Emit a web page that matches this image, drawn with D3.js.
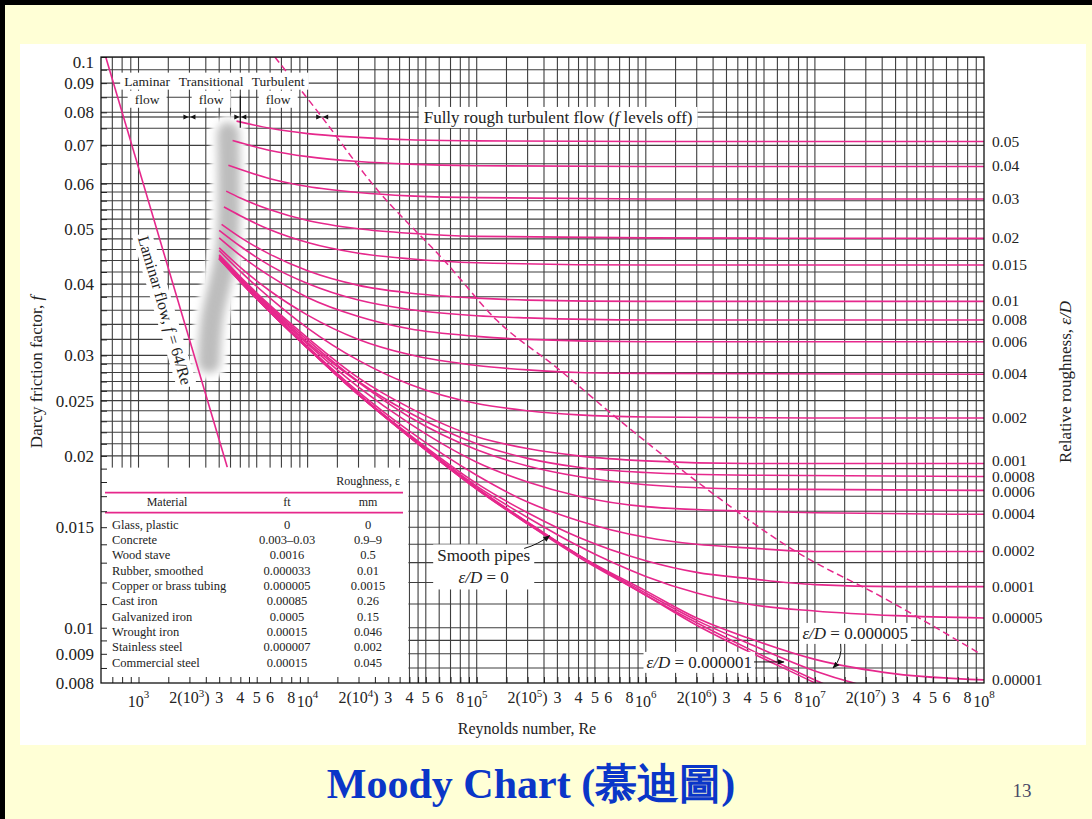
<!DOCTYPE html>
<html>
<head>
<meta charset="utf-8">
<script src="https://cdn.jsdelivr.net/npm/d3@7"></script>
<style>
  html, body { margin: 0; padding: 0; background: #ffffd6; }
  svg { display: block; }
  text { font-family: "Liberation Serif", "DejaVu Serif", serif; }
</style>
</head>
<body>
<svg id="chart" width="1092" height="819"></svg>
<script>
// ---------- data ----------
// relative roughness of each curve (0 = smooth pipes)
const roughness = [0.05, 0.04, 0.03, 0.02, 0.015, 0.01, 0.008, 0.006, 0.004, 0.002,
                   0.001, 0.0008, 0.0006, 0.0004, 0.0002, 0.0001, 0.00005, 0.00001,
                   0.000005, 0.000001, 0];
// labels written at the right-hand end of the curves that reach Re = 10^8
const roughnessLabels = ["0.05", "0.04", "0.03", "0.02", "0.015", "0.01", "0.008", "0.006",
                         "0.004", "0.002", "0.001", "0.0008", "0.0006", "0.0004", "0.0002",
                         "0.0001", "0.00005", "0.00001"];
// Darcy friction factor along each curve: [Re, f] pairs, same order as roughness
const frictionCurves = [
  [[3800,0.0772],[6000,0.0750],[1e4,0.0734],[2e4,0.0723],[4e4,0.0716],[1e5,0.0713],[1e6,0.0711],[1e8,0.0711]],
  [[3600,0.0714],[6000,0.0686],[1e4,0.0669],[2e4,0.0656],[4e4,0.0649],[1e5,0.0645],[1e6,0.0643],[1e8,0.0643]],
  [[3400,0.0646],[6000,0.0612],[1e4,0.0593],[2e4,0.0579],[4e4,0.0571],[1e5,0.0567],[1e6,0.0564],[1e8,0.0564]],
  [[3300,0.0582],[4000,0.0566],[6000,0.0540],[1e4,0.0517],[2e4,0.0500],[4e4,0.0491],[1e5,0.0485],[1e6,0.0482],[1e8,0.0481]],
  [[3200,0.0546],[4000,0.0527],[6000,0.0498],[1e4,0.0473],[2e4,0.0453],[4e4,0.0443],[1e5,0.0436],[1e6,0.0432],[1e8,0.0432]],
  [[3100,0.0509],[4000,0.0483],[6000,0.0451],[1e4,0.0422],[2e4,0.0398],[4e4,0.0386],[1e5,0.0378],[2e5,0.0375],[1e6,0.0373],[1e8,0.0373]],
  [[3000,0.0497],[4000,0.0466],[6000,0.0431],[1e4,0.0401],[2e4,0.0375],[4e4,0.0361],[1e5,0.0352],[2e5,0.0349],[1e6,0.0346],[1e8,0.0346]],
  [[3000,0.0482],[4000,0.0449],[6000,0.0413],[1e4,0.0379],[2e4,0.0351],[4e4,0.0334],[1e5,0.0324],[2e5,0.0320],[1e6,0.0317],[1e8,0.0317]],
  [[3000,0.0463],[4000,0.0428],[6000,0.0389],[1e4,0.0353],[2e4,0.0320],[4e4,0.0301],[1e5,0.0288],[2e5,0.0283],[4e5,0.0280],[1e6,0.0279],[1e8,0.0278]],
  [[3000,0.0458],[4000,0.0421],[6000,0.0378],[1e4,0.0335],[2e4,0.0294],[4e4,0.0267],[1e5,0.0247],[2e5,0.0240],[4e5,0.0236],[1e6,0.0234],[1e7,0.0233],[1e8,0.0233]],
  [[3000,0.0450],[4000,0.0412],[6000,0.0367],[1e4,0.0322],[2e4,0.0274],[4e4,0.0243],[1e5,0.0216],[2e5,0.0206],[4e5,0.0200],[1e6,0.0196],[4e6,0.0194],[1e8,0.0194]],
  [[3000,0.0449],[4000,0.0410],[6000,0.0365],[1e4,0.0319],[2e4,0.0270],[4e4,0.0238],[1e5,0.0210],[2e5,0.0198],[4e5,0.0191],[1e6,0.0187],[4e6,0.0185],[1e8,0.0184]],
  [[3000,0.0447],[4000,0.0409],[6000,0.0363],[1e4,0.0316],[2e4,0.0269],[4e4,0.0234],[1e5,0.0205],[2e5,0.0192],[4e5,0.0184],[1e6,0.0178],[4e6,0.0175],[1e8,0.0174]],
  [[3000,0.0446],[4000,0.0407],[6000,0.0361],[1e4,0.0314],[2e4,0.0264],[4e4,0.0228],[1e5,0.0195],[2e5,0.0180],[4e5,0.0170],[1e6,0.0163],[4e6,0.0160],[1e7,0.0159],[1e8,0.0158]],
  [[3000,0.0445],[4000,0.0406],[6000,0.0359],[1e4,0.0311],[2e4,0.0259],[4e4,0.0221],[1e5,0.0185],[2e5,0.0166],[4e5,0.0154],[1e6,0.0144],[2e6,0.0140],[4e6,0.0138],[1e7,0.0136],[1e8,0.0136]],
  [[3000,0.0444],[4000,0.0405],[6000,0.0358],[1e4,0.0310],[2e4,0.0257],[4e4,0.0218],[1e5,0.0179],[2e5,0.0159],[4e5,0.0144],[1e6,0.0131],[2e6,0.0125],[4e6,0.0122],[1e7,0.0119],[3e7,0.0118],[1e8,0.0118]],
  [[3000,0.0444],[4000,0.0405],[6000,0.0358],[1e4,0.0309],[2e4,0.0256],[4e4,0.0217],[1e5,0.0177],[2e5,0.0156],[4e5,0.0139],[1e6,0.0123],[2e6,0.0115],[4e6,0.0110],[1e7,0.0107],[3e7,0.0105],[1e8,0.0104]],
  [[3000,0.0443],[4000,0.0404],[6000,0.0357],[1e4,0.0309],[2e4,0.0256],[4e4,0.0216],[1e5,0.0176],[2e5,0.0153],[4e5,0.0134],[1e6,0.0116],[2e6,0.0104],[4e6,0.0096],[1e7,0.0088],[3e7,0.0083],[1e8,0.0081]],
  [[3000,0.0443],[4000,0.0404],[6000,0.0357],[1e4,0.0309],[2e4,0.0256],[4e4,0.0216],[1e5,0.0175],[2e5,0.0153],[4e5,0.0134],[1e6,0.0115],[2e6,0.0103],[4e6,0.0094],[1e7,0.0084],[2e7,0.0079],[3e7,0.0077]],
  [[3000,0.0443],[4000,0.0404],[6000,0.0357],[1e4,0.0309],[2e4,0.0256],[4e4,0.0216],[1e5,0.0175],[2e5,0.0152],[4e5,0.0134],[1e6,0.0114],[2e6,0.0102],[4e6,0.0092],[1e7,0.0081],[2e7,0.0074]],
  [[3000,0.0443],[4000,0.0404],[6000,0.0357],[1e4,0.0309],[2e4,0.0256],[4e4,0.0216],[1e5,0.0175],[2e5,0.0152],[4e5,0.0133],[1e6,0.0114],[2e6,0.0101],[4e6,0.0091],[1e7,0.0080],[2e7,0.0072]]
];
// laminar line f = 64/Re, end points
const laminarRe = [640, 3350];
const laminarF  = [0.1, 0.0191];
// dashed boundary of the fully rough zone
const roughBoundaryRe = [6400, 12100, 24400, 66000, 131000, 300000, 650000, 2180000, 7400000, 26600000, 95000000];
const roughBoundaryF  = [0.1, 0.0786, 0.0597, 0.0436, 0.0346, 0.0285, 0.0235, 0.0177, 0.0137, 0.0112, 0.0090];
// shaded transition band (centre line)
const bandRe = [3390, 3340, 2720, 2610];
const bandF  = [0.0735, 0.0468, 0.0346, 0.0292];

// axis values
const fTickLabels = [0.1, 0.09, 0.08, 0.07, 0.06, 0.05, 0.04, 0.03, 0.025, 0.02, 0.015, 0.01, 0.009, 0.008];
const reTickLabels = [1e3, 2e3, 3e3, 4e3, 5e3, 6e3, 8e3,
                      1e4, 2e4, 3e4, 4e4, 5e4, 6e4, 8e4,
                      1e5, 2e5, 3e5, 4e5, 5e5, 6e5, 8e5,
                      1e6, 2e6, 3e6, 4e6, 5e6, 6e6, 8e6,
                      1e7, 2e7, 3e7, 4e7, 5e7, 6e7, 8e7, 1e8];
const gridMantissa = [1, 1.5, 2, 2.5, 3, 3.5, 4, 4.5, 5, 6, 7, 8, 9];
const fGrid = [0.0085, 0.009, 0.0095,
  0.01, 0.011, 0.012, 0.013, 0.014, 0.015, 0.016, 0.017, 0.018, 0.019, 0.02,
  0.021, 0.022, 0.023, 0.024, 0.025, 0.026, 0.027, 0.028, 0.029, 0.03,
  0.032, 0.034, 0.036, 0.038, 0.04, 0.042, 0.044, 0.046, 0.048, 0.05,
  0.052, 0.054, 0.056, 0.058, 0.06, 0.065, 0.07, 0.075, 0.08, 0.085, 0.09, 0.095, 0.1];

// roughness table
const materials = ["Glass, plastic", "Concrete", "Wood stave", "Rubber, smoothed", "Copper or brass tubing",
                   "Cast iron", "Galvanized iron", "Wrought iron", "Stainless steel", "Commercial steel"];
const roughnessFt = ["0", "0.003\u20130.03", "0.0016", "0.000033", "0.000005", "0.00085", "0.0005", "0.00015", "0.000007", "0.00015"];
const roughnessMm = ["0", "0.9\u20139", "0.5", "0.01", "0.0015", "0.26", "0.15", "0.046", "0.002", "0.045"];

// ---------- drawing ----------
const W = 1092, H = 819;
const PINK = "#e6288c";
const GRID = "#3e3e3e";
const svg = d3.select("#chart");

const x = d3.scaleLog().domain([600, 1e8]).range([101, 984]);
const y = d3.scaleLog().domain([0.008, 0.1]).range([683, 57]);
const [X0, X1] = x.range();
const Y0 = y(0.1), Y1 = y(0.008);

const defs = svg.append("defs");
defs.append("clipPath").attr("id", "plotClip")
  .append("rect").attr("x", X0).attr("y", Y0).attr("width", X1 - X0).attr("height", Y1 - Y0);
defs.append("filter").attr("id", "soft").attr("x", "-100%").attr("y", "-20%").attr("width", "300%").attr("height", "140%")
  .append("feGaussianBlur").attr("stdDeviation", 4);
defs.append("filter").attr("id", "softer").attr("x", "-100%").attr("y", "-20%").attr("width", "300%").attr("height", "140%")
  .append("feGaussianBlur").attr("stdDeviation", 2);
defs.append("marker").attr("id", "head").attr("viewBox", "0 0 10 10").attr("refX", 9).attr("refY", 5)
  .attr("markerWidth", 7).attr("markerHeight", 7).attr("orient", "auto-start-reverse")
  .append("path").attr("d", "M0,1 L10,5 L0,9 Z").attr("fill", "#111");

// slide background and frame
svg.append("rect").attr("width", W).attr("height", H).attr("fill", "#ffffd6");
svg.append("rect").attr("width", W).attr("height", 5).attr("fill", "#000");
svg.append("rect").attr("width", 5).attr("height", H).attr("fill", "#000");
svg.append("rect").attr("x", 20).attr("y", 44).attr("width", 1066).attr("height", 701).attr("fill", "#fff");

// grid
const reGrid = [];
[2, 3, 4, 5, 6, 7].forEach(k => gridMantissa.forEach(m => {
  const v = m * Math.pow(10, k);
  if (v > 600 && v < 1e8) reGrid.push(v);
}));
const grid = svg.append("g").attr("clip-path", "url(#plotClip)");
grid.selectAll("line.v").data(reGrid).join("line").attr("class", "v")
  .attr("x1", d => x(d)).attr("x2", d => x(d)).attr("y1", Y0).attr("y2", Y1)
  .attr("stroke", GRID).attr("stroke-width", 1.1);
grid.selectAll("line.h").data(fGrid).join("line").attr("class", "h")
  .attr("x1", X0).attr("x2", X1).attr("y1", d => y(d)).attr("y2", d => y(d))
  .attr("stroke", GRID).attr("stroke-width", 1.1);
// regime marker line
const fRegime = 0.0785;
grid.append("line").attr("x1", X0).attr("x2", X1).attr("y1", y(fRegime)).attr("y2", y(fRegime))
  .attr("stroke", "#111").attr("stroke-width", 1.1);

// shaded transition band
const bandPts = bandRe.map((r, i) => [x(r), y(bandF[i])]);
const bandLine = d3.line().curve(d3.curveCatmullRom);
svg.append("path").attr("d", bandLine(bandPts)).attr("fill", "none")
  .attr("stroke", "#fff").attr("stroke-width", 36).attr("stroke-linecap", "round").attr("filter", "url(#softer)");
svg.append("path").attr("d", bandLine(bandPts)).attr("fill", "none")
  .attr("stroke", "#bdbdbd").attr("stroke-width", 22).attr("stroke-linecap", "round").attr("filter", "url(#soft)");

// curves
const plot = svg.append("g").attr("clip-path", "url(#plotClip)");
const curveLine = d3.line().x(d => x(d[0])).y(d => y(d[1])).curve(d3.curveMonotoneX);
plot.selectAll("path.curve").data(frictionCurves).join("path").attr("class", "curve")
  .attr("d", curveLine).attr("fill", "none").attr("stroke", PINK).attr("stroke-width", 1.6);
plot.append("path")
  .attr("d", d3.line().curve(d3.curveMonotoneX)(roughBoundaryRe.map((r, i) => [x(r), y(roughBoundaryF[i])])))
  .attr("fill", "none").attr("stroke", PINK).attr("stroke-width", 1.5).attr("stroke-dasharray", "7,4");
plot.append("line")
  .attr("x1", x(laminarRe[0])).attr("y1", y(laminarF[0])).attr("x2", x(laminarRe[1])).attr("y2", y(laminarF[1]))
  .attr("stroke", PINK).attr("stroke-width", 1.6);

// roughness table panel
const tX0 = X0, tX1 = x(4e4) - 1, tY0 = y(0.019) - 1, tY1 = Y1;
svg.append("rect").attr("x", tX0).attr("y", tY0).attr("width", tX1 - tX0).attr("height", tY1 - tY0).attr("fill", "#fff");
const tbl = svg.append("g").attr("font-size", 12.5).attr("fill", "#222");
tbl.append("text").attr("x", tX0 + 299).attr("y", tY0 + 17).attr("text-anchor", "end").attr("font-size", 12)
  .text("Roughness, \u03b5");
[tY0 + 25, tY0 + 45].forEach(yy => tbl.append("line").attr("x1", tX0 + 4).attr("x2", tX0 + 302)
  .attr("y1", yy).attr("y2", yy).attr("stroke", PINK).attr("stroke-width", 1.6));
tbl.append("text").attr("x", tX0 + 66).attr("y", tY0 + 38).attr("text-anchor", "middle").attr("font-size", 12).text("Material");
tbl.append("text").attr("x", tX0 + 186).attr("y", tY0 + 38).attr("text-anchor", "middle").attr("font-size", 12).text("ft");
tbl.append("text").attr("x", tX0 + 267).attr("y", tY0 + 38).attr("text-anchor", "middle").attr("font-size", 12).text("mm");
const rowY = i => tY0 + 61 + i * 15.35;
tbl.selectAll("text.mat").data(materials).join("text").attr("class", "mat")
  .attr("x", tX0 + 11).attr("y", (d, i) => rowY(i)).text(d => d);
tbl.selectAll("text.ft").data(roughnessFt).join("text").attr("class", "ft")
  .attr("x", tX0 + 186).attr("y", (d, i) => rowY(i)).attr("text-anchor", "middle").text(d => d);
tbl.selectAll("text.mm").data(roughnessMm).join("text").attr("class", "mm")
  .attr("x", tX0 + 267).attr("y", (d, i) => rowY(i)).attr("text-anchor", "middle").text(d => d);

// inward ticks on the left and bottom edges (visible over the table)
svg.append("g").attr("transform", `translate(${X0},0)`)
  .call(d3.axisLeft(y).tickValues(fGrid).tickSize(-6).tickSizeOuter(0).tickFormat(""))
  .call(g => g.selectAll("line").attr("stroke", "#222"))
  .call(g => g.select(".domain").remove());
svg.append("g").attr("transform", `translate(0,${Y1})`)
  .call(d3.axisBottom(x).tickValues(reGrid).tickSize(-6).tickSizeOuter(0).tickFormat(""))
  .call(g => g.selectAll("line").attr("stroke", "#222"))
  .call(g => g.select(".domain").remove());

// plot frame
svg.append("rect").attr("x", X0).attr("y", Y0).attr("width", X1 - X0).attr("height", Y1 - Y0)
  .attr("fill", "none").attr("stroke", "#111").attr("stroke-width", 1.3);

// left axis labels
svg.append("g").attr("transform", `translate(${X0},0)`)
  .call(d3.axisLeft(y).tickValues(fTickLabels).tickSize(0).tickPadding(7).tickFormat(d => String(d)))
  .call(g => g.select(".domain").remove())
  .call(g => g.selectAll("text").attr("font-family", "Liberation Serif").attr("font-size", 17).attr("fill", "#222"))
  .call(g => g.selectAll(".tick").filter(d => d === 0.1).select("text").attr("dy", "0.62em"));

// bottom axis labels, powers of ten written as 10^k and 2(10^k)
const bottom = svg.append("g").attr("font-size", 16).attr("fill", "#222");
reTickLabels.forEach(v => {
  const k = Math.floor(Math.log10(v) + 1e-9);
  const m = Math.round(v / Math.pow(10, k));
  const t = bottom.append("text").attr("x", x(v)).attr("y", Y1 + 20).attr("text-anchor", "middle");
  if (m === 1) {
    t.append("tspan").attr("dy", 4).text("10");
    t.append("tspan").attr("dy", -9).attr("font-size", 11).text(String(k));
  } else if (m === 2) {
    t.append("tspan").text("2(10");
    t.append("tspan").attr("dy", -6).attr("font-size", 11).text(String(k));
    t.append("tspan").attr("dy", 6).text(")");
  } else {
    t.text(String(m));
  }
});

// right-hand roughness labels at the curve ends, kept at least one line apart
const labelGap = 15.5;
const labelY = [];
roughnessLabels.forEach((d, i) => {
  let yy = y(frictionCurves[i][frictionCurves[i].length - 1][1]) + 5;
  if (i > 0 && yy - labelY[i - 1] < labelGap) yy = labelY[i - 1] + labelGap;
  labelY.push(yy);
});
// shift the tight 0.001 / 0.0008 / 0.0006 group up so it stays centred on its curves
const grpStart = roughnessLabels.indexOf("0.001");
[0, 1, 2].forEach(j => { labelY[grpStart + j] -= 2; });
svg.append("g").selectAll("text").data(roughnessLabels).join("text")
  .attr("x", X1 + 8)
  .attr("y", (d, i) => labelY[i])
  .attr("font-size", 15.5).attr("fill", "#222").text(d => d);

// axis titles
svg.append("text").attr("transform", `translate(42,372) rotate(-90)`).attr("text-anchor", "middle")
  .attr("font-size", 17).attr("fill", "#222")
  .call(t => { t.append("tspan").text("Darcy friction factor, "); t.append("tspan").attr("font-style", "italic").text("f"); });
svg.append("text").attr("transform", `translate(1071,382) rotate(-90)`).attr("text-anchor", "middle")
  .attr("font-size", 17).attr("fill", "#222")
  .call(t => { t.append("tspan").text("Relative roughness, "); t.append("tspan").attr("font-style", "italic").text("\u03b5/D"); });
svg.append("text").attr("x", 527).attr("y", 734).attr("text-anchor", "middle")
  .attr("font-size", 16).attr("fill", "#222").text("Reynolds number, Re");

// helper: white box behind a text element
function backdrop(parent, textSel, padX, padY) {
  const b = textSel.node().getBBox();
  parent.insert("rect", () => textSel.node())
    .attr("x", b.x - padX).attr("y", b.y - padY).attr("width", b.width + 2 * padX).attr("height", b.height + 2 * padY)
    .attr("fill", "#fff");
}

// flow regime labels across the top
const regimeNames = ["Laminar", "Transitional", "Turbulent"];
const regimeRe = [1123, 2686, 6692];
const regimeRowF = [0.0908, 0.0844];
const ann = svg.append("g").attr("fill", "#222");
const row1 = ann.append("g");
const row1Texts = regimeNames.map((n, i) => row1.append("text").attr("x", x(regimeRe[i])).attr("y", y(regimeRowF[0]))
  .attr("dy", "0.35em").attr("text-anchor", "middle").attr("font-size", 13.5).text(n));
{
  const bs = row1Texts.map(t => t.node().getBBox());
  const bx0 = d3.min(bs, b => b.x) - 4, bx1 = d3.max(bs, b => b.x + b.width) + 4;
  const by0 = d3.min(bs, b => b.y) - 1, by1 = d3.max(bs, b => b.y + b.height) + 1;
  row1.insert("rect", "text").attr("x", bx0).attr("y", by0).attr("width", bx1 - bx0).attr("height", by1 - by0).attr("fill", "#fff");
}
regimeNames.forEach((n, i) => {
  const g = ann.append("g");
  const t = g.append("text").attr("x", x(regimeRe[i])).attr("y", y(regimeRowF[1])).attr("dy", "0.35em")
    .attr("text-anchor", "middle").attr("font-size", 13.5).text("flow");
  backdrop(g, t, 7, 1);
});
// boundary arrows on the regime line
const regimeBoundsRe = [2000, 4000, 12200];
regimeBoundsRe.forEach(r => {
  const cx = x(r), cy = y(fRegime);
  ann.append("path").attr("d", `M${cx - 6},${cy - 2.6} L${cx - 0.8},${cy} L${cx - 6},${cy + 2.6} Z`).attr("fill", "#111");
  ann.append("path").attr("d", `M${cx + 6},${cy - 2.6} L${cx + 0.8},${cy} L${cx + 6},${cy + 2.6} Z`).attr("fill", "#111");
});
ann.append("line").attr("x1", x(4000)).attr("x2", x(4000)).attr("y1", y(0.0855)).attr("y2", y(0.0752))
  .attr("stroke", "#111").attr("stroke-width", 1.2);

// fully rough label
{
  const g = ann.append("g");
  const t = g.append("text").attr("x", x(3.03e5)).attr("y", y(fRegime)).attr("dy", "0.35em")
    .attr("text-anchor", "middle").attr("font-size", 17);
  t.append("tspan").text("Fully rough turbulent flow (");
  t.append("tspan").attr("font-style", "italic").text("f");
  t.append("tspan").text(" levels off)");
  backdrop(g, t, 5, 1);
}

// laminar line label
{
  const p1 = [x(laminarRe[0]), y(laminarF[0])], p2 = [x(laminarRe[1]), y(laminarF[1])];
  const ang = Math.atan2(p2[1] - p1[1], p2[0] - p1[0]);
  const tpos = 0.63, off = 18;
  const cx = p1[0] + tpos * (p2[0] - p1[0]) - off * Math.sin(ang);
  const cy = p1[1] + tpos * (p2[1] - p1[1]) - off * Math.cos(ang);
  const g = ann.append("g").attr("transform", `translate(${cx},${cy}) rotate(${ang * 180 / Math.PI})`);
  const t = g.append("text").attr("text-anchor", "middle").attr("dy", "0.35em").attr("font-size", 16);
  t.append("tspan").text("Laminar flow, ");
  t.append("tspan").attr("font-style", "italic").text("f");
  t.append("tspan").text(" = 64/Re");
  backdrop(g, t, 3, 1);
}

// smooth pipes label
{
  const g = ann.append("g");
  const ax = x(1.1e5), ay = y(0.0128);
  const t1 = g.append("text").attr("x", ax).attr("y", ay - 11).attr("dy", "0.35em").attr("text-anchor", "middle")
    .attr("font-size", 17).text("Smooth pipes");
  const t2 = g.append("text").attr("x", ax).attr("y", ay + 11).attr("dy", "0.35em").attr("text-anchor", "middle")
    .attr("font-size", 17);
  t2.append("tspan").attr("font-style", "italic").text("\u03b5/D");
  t2.append("tspan").text(" = 0");
  const b1 = t1.node().getBBox(), b2 = t2.node().getBBox();
  const bx0 = Math.min(b1.x, b2.x) - 4, bx1 = Math.max(b1.x + b1.width, b2.x + b2.width) + 4;
  g.insert("rect", "text").attr("x", bx0).attr("y", b1.y - 2).attr("width", bx1 - bx0)
    .attr("height", b2.y + b2.height - b1.y + 4).attr("fill", "#fff");
  const sx = b1.x + b1.width - 6, sy = b1.y + 2;
  const tip = [x(2.7e5), y(0.0145)];
  g.append("path").attr("d", `M${sx},${sy} Q${sx + 14},${sy - 4} ${tip[0]},${tip[1]}`)
    .attr("fill", "none").attr("stroke", "#111").attr("stroke-width", 1).attr("marker-end", "url(#head)");
}

// ε/D = 0.000005 label
{
  const g = ann.append("g");
  const t = g.append("text").attr("x", x(1.73e7)).attr("y", y(0.00979)).attr("dy", "0.35em")
    .attr("text-anchor", "middle").attr("font-size", 17);
  t.append("tspan").attr("font-style", "italic").text("\u03b5/D");
  t.append("tspan").text(" = 0.000005");
  backdrop(g, t, 3, 1);
  const b = t.node().getBBox();
  const tip = [x(1.28e7), y(0.0085)];
  const sx = x(1.42e7), sy = b.y + b.height + 1;
  g.append("path").attr("d", `M${sx},${sy} Q${sx + 2},${sy + 14} ${tip[0]},${tip[1]}`)
    .attr("fill", "none").attr("stroke", "#111").attr("stroke-width", 1).attr("marker-end", "url(#head)");
}

// ε/D = 0.000001 label
{
  const g = ann.append("g");
  const t = g.append("text").attr("x", x(4.25e6)).attr("y", y(0.00871)).attr("dy", "0.35em")
    .attr("text-anchor", "end").attr("font-size", 17);
  t.append("tspan").attr("font-style", "italic").text("\u03b5/D");
  t.append("tspan").text(" = 0.000001");
  backdrop(g, t, 3, 1);
  g.append("line").attr("x1", x(4.25e6) + 2).attr("x2", x(6.56e6)).attr("y1", y(0.00871)).attr("y2", y(0.00871))
    .attr("stroke", "#111").attr("stroke-width", 1).attr("marker-end", "url(#head)");
}

// slide title and page number
svg.append("text").attr("x", 531).attr("y", 798).attr("text-anchor", "middle")
  .attr("font-family", "'Liberation Serif', 'Noto Sans CJK TC', serif").attr("font-weight", "bold")
  .attr("font-size", 42).attr("fill", "#0a36c8").text("Moody Chart (\u6155\u8fea\u5716)");
svg.append("text").attr("x", 1022).attr("y", 797).attr("text-anchor", "middle")
  .attr("font-family", "'Liberation Sans Narrow', 'Liberation Sans', sans-serif")
  .attr("font-size", 19).attr("fill", "#4a4a66").text("13");
</script>
</body>
</html>
